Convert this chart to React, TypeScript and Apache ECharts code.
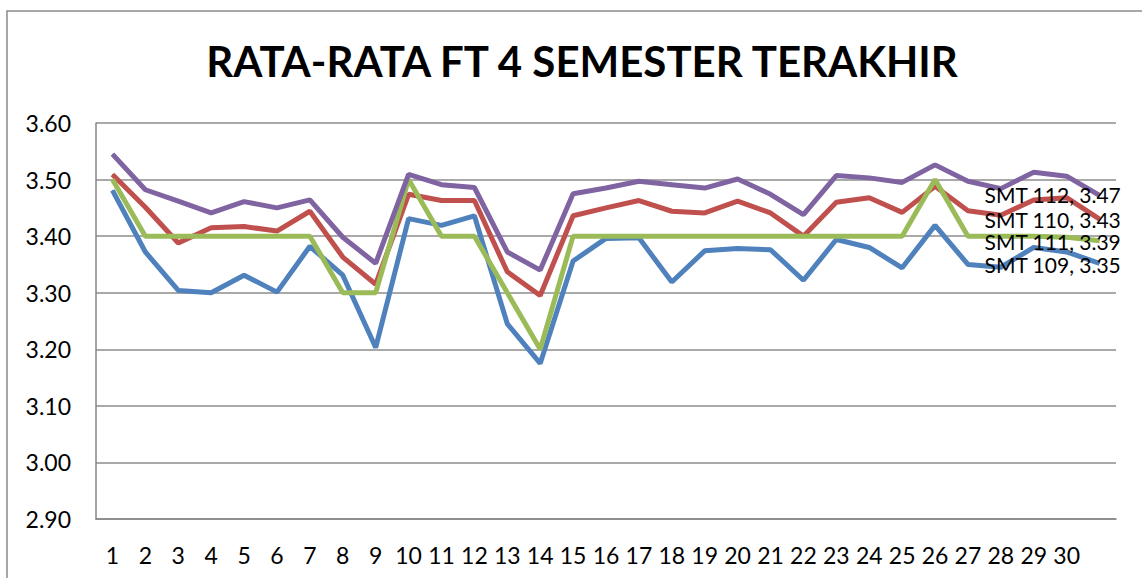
import React, { useEffect, useRef } from "react";
import * as echarts from "echarts";

const titleText = "RATA-RATA FT 4 SEMESTER TERAKHIR";

const categories = [
  "1", "2", "3", "4", "5", "6", "7", "8", "9", "10",
  "11", "12", "13", "14", "15", "16", "17", "18", "19", "20",
  "21", "22", "23", "24", "25", "26", "27", "28", "29", "30", "",
];

const smt109 = [
  3.481, 3.372, 3.304, 3.3, 3.331, 3.301, 3.382, 3.331, 3.203, 3.431,
  3.419, 3.436, 3.245, 3.175, 3.356, 3.396, 3.397, 3.319, 3.374, 3.378,
  3.376, 3.322, 3.394, 3.38, 3.344, 3.419, 3.35, 3.345, 3.38, 3.372, 3.352,
];
const smt110 = [
  3.509, 3.451, 3.388, 3.415, 3.417, 3.409, 3.444, 3.363, 3.315, 3.474,
  3.463, 3.463, 3.337, 3.295, 3.436, 3.45, 3.463, 3.444, 3.441, 3.462,
  3.441, 3.4, 3.46, 3.468, 3.442, 3.488, 3.445, 3.437, 3.464, 3.468, 3.43,
];
const smt111 = [
  3.5, 3.4, 3.4, 3.4, 3.4, 3.4, 3.4, 3.3, 3.3, 3.5,
  3.4, 3.4, 3.3, 3.2, 3.4, 3.4, 3.4, 3.4, 3.4, 3.4,
  3.4, 3.4, 3.4, 3.4, 3.4, 3.5, 3.4, 3.4, 3.4, 3.398, 3.392,
];
const smt112 = [
  3.545, 3.482, 3.462, 3.441, 3.461, 3.45, 3.464, 3.398, 3.352, 3.509,
  3.491, 3.486, 3.372, 3.34, 3.475, 3.485, 3.497, 3.491, 3.485, 3.501,
  3.474, 3.438, 3.507, 3.503, 3.495, 3.526, 3.497, 3.484, 3.513, 3.506, 3.472,
];

const seriesNames = ["SMT 109", "SMT 110", "SMT 111", "SMT 112"];
const seriesValues = [smt109, smt110, smt111, smt112];
const seriesColors = ["#4F81BD", "#C0504D", "#9BBB59", "#8064A2"];
const labelNudgeY = [1, 0, 1, -1];

const FONT = "Lato, 'Open Sans', sans-serif";

export default function App() {
  const ref = useRef<HTMLDivElement>(null);

  useEffect(() => {
    if (!ref.current) return;
    const chart = echarts.init(ref.current, null, { renderer: "svg" });

    const series = seriesValues.map((vals, si) => {
      const last = vals.length - 1;
      return {
        name: seriesNames[si],
        type: "line",
        symbol: "circle",
        symbolSize: 1,
        showSymbol: true,
        showAllSymbol: true,
        itemStyle: { color: seriesColors[si] },
        lineStyle: { color: seriesColors[si], width: 5 },
        emphasis: { disabled: true },
        z: 2 + si,
        data: vals.map((v, i) =>
          i === last
            ? {
                value: v,
                label: {
                  show: true,
                  position: "inside",
                  align: "left",
                  verticalAlign: "middle",
                  offset: [-115, labelNudgeY[si]],
                  formatter: () => `${seriesNames[si]}, ${v.toFixed(2)}`,
                  fontSize: 21,
                  lineHeight: 20,
                  fontFamily: FONT,
                  color: "#000",
                },
              }
            : v
        ),
      };
    });

    chart.setOption({
      animation: false,
      backgroundColor: "#fff",
      title: {
        text: titleText,
        left: 577,
        top: 35,
        textAlign: "center",
        textStyle: {
          fontSize: 42,
          fontWeight: "bold",
          fontFamily: FONT,
          color: "#000",
        },
      },
      graphic: [
        {
          type: "rect",
          z: -1,
          shape: { x: 7, y: 11, width: 1300, height: 800 },
          style: { fill: "none", stroke: "#8a8a8a", lineWidth: 1.5 },
        },
      ],
      grid: { left: 96, top: 123, right: 26, bottom: 59, containLabel: false },
      xAxis: {
        type: "category",
        data: categories,
        boundaryGap: true,
        axisLine: { show: true, lineStyle: { color: "#868686", width: 1.5 } },
        axisTick: { show: false },
        splitLine: { show: false },
        axisLabel: {
          interval: 0,
          fontSize: 23,
          fontFamily: FONT,
          color: "#000",
          margin: 24,
        },
      },
      yAxis: {
        type: "value",
        min: 2.9,
        max: 3.6,
        interval: 0.1,
        axisLine: { show: true, lineStyle: { color: "#868686", width: 1.5 } },
        axisTick: { show: false },
        splitLine: { show: true, lineStyle: { color: "#8c8c8c", width: 1.5 } },
        axisLabel: {
          formatter: (v: number) => v.toFixed(2),
          fontSize: 23,
          fontFamily: FONT,
          color: "#000",
          margin: 25,
        },
      },
      series,
    });

    return () => chart.dispose();
  }, []);

  return (
    <div
      ref={ref}
      style={{ position: "absolute", left: 0, top: 0, width: 1142, height: 578 }}
    />
  );
}
